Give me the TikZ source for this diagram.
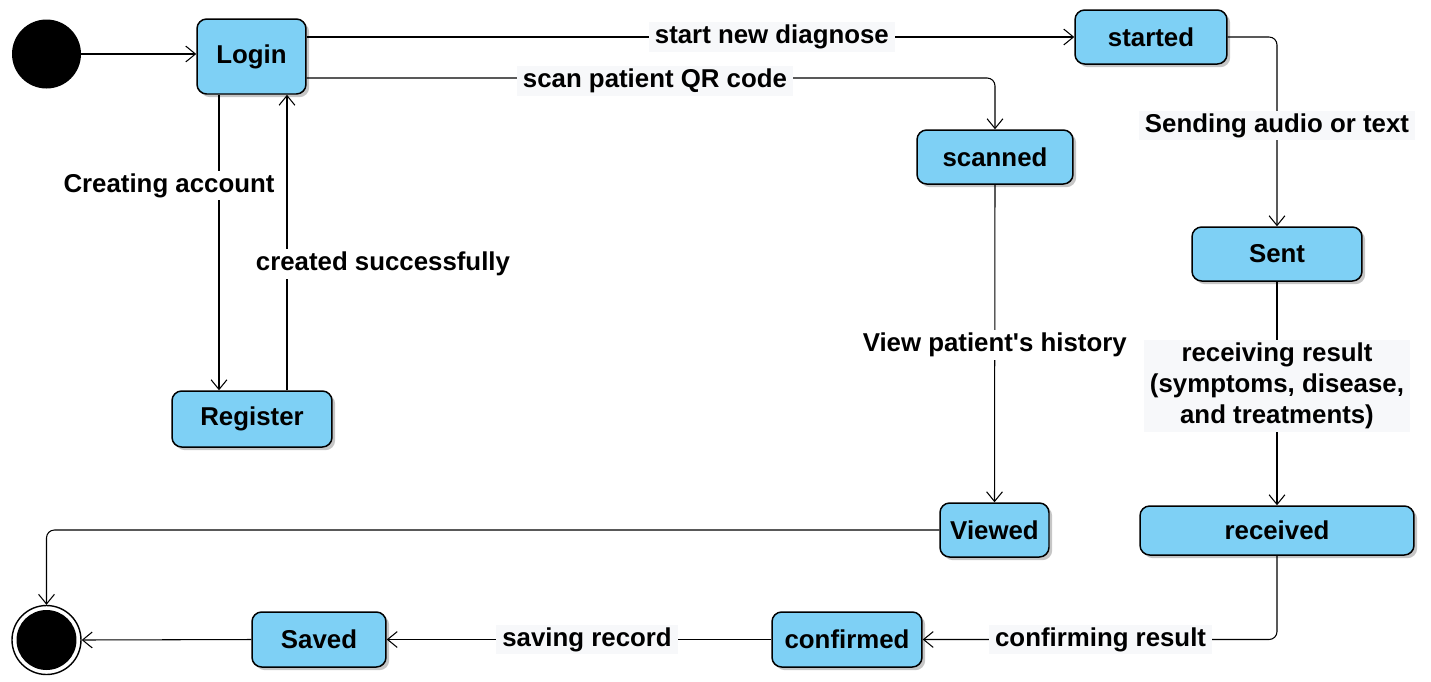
\documentclass[tikz,border=0pt]{standalone}
\usepackage{fontspec}
\setmainfont{Liberation Sans}
\usetikzlibrary{arrows.meta,shadows}
\definecolor{stfill}{RGB}{126,208,245}
\definecolor{lblbg}{RGB}{247,248,250}
\begin{document}
\begin{tikzpicture}[x=0.02cm,y=-0.02cm,
  txt/.style={font=\bfseries\fontsize{14.7}{17.5}\selectfont},
  state/.style={txt, draw, line width=0.85pt, fill=stfill, rounded corners=5.5pt, inner sep=0pt,
    drop shadow={shadow xshift=1.8pt, shadow yshift=-1.8pt, fill=black!28, opacity=0.8}},
  edge/.style={draw, line width=0.6pt, -{Straight Barb[length=5.5pt,width=9pt,line width=0.6pt]}, rounded corners=4.5pt},
  lbl/.style={txt, fill=lblbg, sharp corners, inner xsep=3.5pt, inner ysep=1.6pt},
  wlbl/.style={txt, fill=white, sharp corners, inner xsep=3.5pt, inner ysep=1.6pt},
  startnode/.style={circle, fill=black, minimum size=1.38cm, inner sep=0pt},
  endnode/.style={circle, draw, line width=0.8pt, minimum size=1.38cm, inner sep=0pt,
    path picture={\fill[black] (path picture bounding box.center) circle (0.6cm);}}
]
\useasboundingbox (0,0) rectangle (1431,681);

\node[startnode] (Start) at (46.5,54) {};
\node[endnode] (End) at (46.5,640) {};

\node[state, minimum width=2.18cm, minimum height=1.50cm] (Login) at (251.5,56.5) {Login};
\node[state, minimum width=3.04cm, minimum height=1.08cm] (started) at (1151,37) {started};
\node[state, minimum width=3.12cm, minimum height=1.08cm] (scanned) at (995,157) {scanned};
\node[state, minimum width=3.40cm, minimum height=1.08cm] (Sent) at (1277,254) {Sent};
\node[state, minimum width=3.20cm, minimum height=1.12cm] (Register) at (252,419) {Register};
\node[state, minimum width=2.18cm, minimum height=1.08cm] (Viewed) at (994.5,530) {Viewed};
\node[state, minimum width=5.48cm, minimum height=0.98cm] (received) at (1277,530.5) {received};
\node[state, minimum width=3.00cm, minimum height=1.10cm] (confirmed) at (847,639.5) {confirmed};
\node[state, minimum width=2.68cm, minimum height=1.10cm] (Saved) at (319,639.5) {Saved};

\draw[edge] (Start) -- (Start -| Login.west);
\draw[edge] (Login.east |- started.west) -- node[lbl, pos=0.606] {start new diagnose} (started.west);
\draw[edge] ([yshift=-0.43cm]Login.east) -| node[lbl, pos=0.253, yshift=-0.06cm] {scan patient QR code} (scanned.north);
\draw[edge] ([xshift=-0.65cm]Login.south) -- node[wlbl, pos=0.307, xshift=-1.0cm] {Creating account} ([xshift=-0.65cm]Login.south |- Register.north);
\draw[edge] ([xshift=0.70cm]Register.north) -- node[wlbl, pos=0.428, xshift=1.92cm] {created successfully} ([xshift=0.70cm]Register.north |- Login.south);
\draw[edge] (started.east) -| node[lbl, pos=0.734] {Sending audio or text} (Sent.north);
\draw[edge] (scanned.south) -- node[wlbl, pos=0.504] {View patient\textquotesingle s history} (Viewed.north);
\draw[edge] (Sent.south) -- node[lbl, pos=0.466, align=center] {receiving result\\(symptoms, disease,\\and treatments)} (received.north);
\draw[edge] (received.south) |- node[lbl, pos=0.749] {confirming result} (confirmed.east);
\draw[edge] (confirmed.west) -- node[lbl, pos=0.479] {saving record} (Saved.east);
\draw[edge] (Saved.west) -- (End.east);
\draw[edge] (Viewed.west) -| (End.north);
\end{tikzpicture}
\end{document}
